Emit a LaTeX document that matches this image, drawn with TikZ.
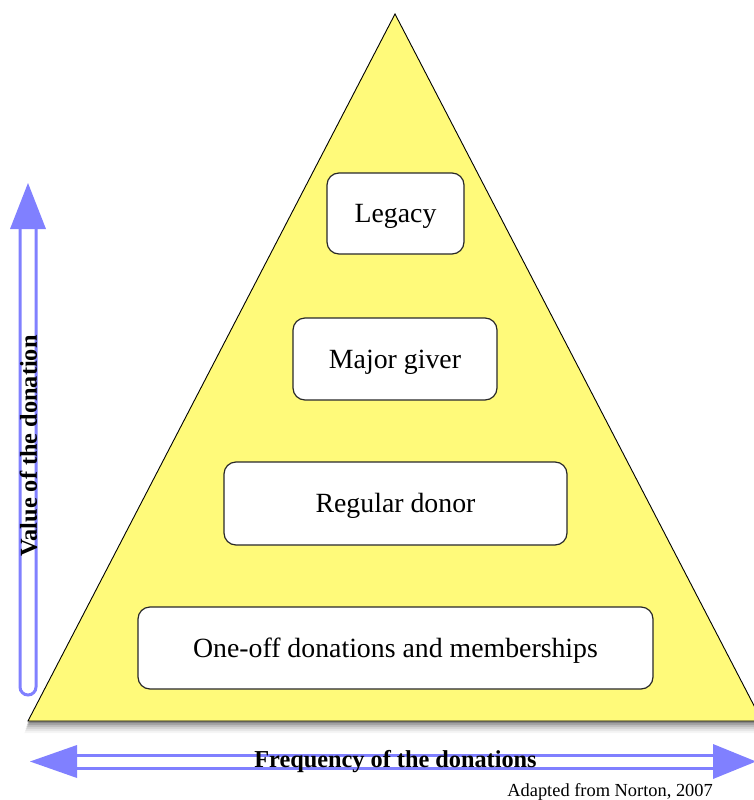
\documentclass[tikz,border=0pt]{standalone}
\usepackage{fontspec}
\setmainfont{Liberation Serif}
\definecolor{pyr}{RGB}{255,250,122}
\definecolor{arrowblue}{RGB}{128,128,255}
\definecolor{boxline}{RGB}{40,40,40}
\begin{document}
\begin{tikzpicture}[x=1pt,y=-1pt,
  level/.style={draw=boxline,line width=1.2pt,fill=white,rounded corners=12pt,
    inner sep=0pt,text height=18pt,text depth=0pt,font=\fontsize{27.8}{30}\selectfont},
  shaft/.style={draw=arrowblue,line width=3pt},
  head/.style={fill=arrowblue},
  axislabel/.style={font=\fontsize{24.3}{26}\selectfont\bfseries,inner sep=0pt}]
\useasboundingbox (0,0) rectangle (754,800);
% shadow of the pyramid
\foreach \d/\o in {12/0.04,10/0.06,8/0.08,6/0.10,4/0.14,2/0.18}{
  \fill[black,opacity=\o] (395,14+\d) -- (28-\d*0.3,721+\d) -- (762+\d*0.3,721+\d) -- cycle;
}
% pyramid
\coordinate (apex) at (395,14);
\coordinate (bl) at (28,721);
\coordinate (br) at (762,721);
\fill[pyr] (apex) -- (bl) -- (br) -- cycle;
\draw[black,line width=0.9pt,line join=miter] (br) -- (apex) -- (bl) -- (br);
% levels
\node[level,minimum width=137pt,minimum height=81pt] (legacy) at (395.5,213.5) {Legacy};
\node[level,minimum width=204pt,minimum height=82pt] (major) at (395,359) {Major giver};
\node[level,minimum width=343pt,minimum height=83pt] (regular) at (395.5,503.5) {Regular donor};
\node[level,minimum width=515pt,minimum height=82pt] (oneoff) at (395.5,648) {One-off donations and memberships};
% vertical arrow
\coordinate (vtip) at (28,183);
\coordinate (vbl) at (10,229);
\coordinate (vbr) at (46,229);
\draw[shaft] (20,229) -- (20,687) arc[start angle=180,end angle=360,x radius=8,y radius=-8] -- (36,229);
\fill[head] (vtip) -- (vbl) -- (vbr) -- cycle;
\node[axislabel,rotate=90] (vlabel) at (28.5,446) {Value of the donation};
% horizontal arrow
\coordinate (ltip) at (30,761.5);
\coordinate (rtip) at (756,761.5);
\draw[shaft] (76,755) -- (714,755);
\draw[shaft] (76,768) -- (714,768);
\fill[head] (ltip) -- (77,745) -- (77,778) -- cycle;
\fill[head] (rtip) -- (713,744) -- (713,779) -- cycle;
\node[axislabel] (hlabel) at (395.5,762) {Frequency of the donations};
\node[font=\fontsize{18.4}{20}\selectfont,inner sep=0pt,anchor=base east] (credit) at (713,796) {Adapted from Norton, 2007};
\end{tikzpicture}
\end{document}
